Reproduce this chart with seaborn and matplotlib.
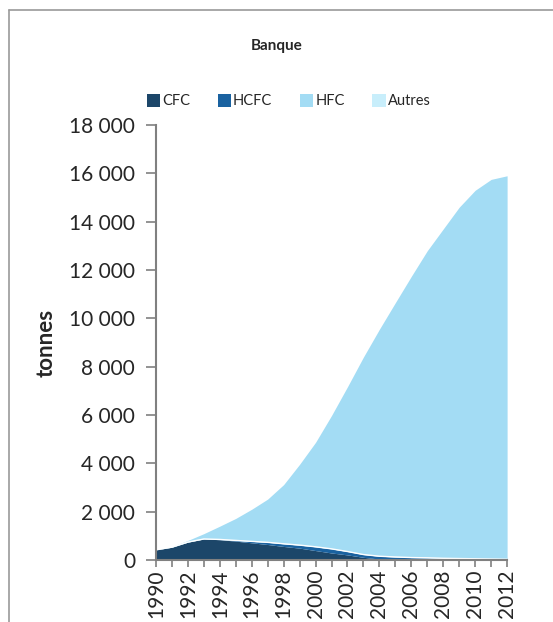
import numpy as np
import pandas as pd
import matplotlib
matplotlib.use("Agg")
import matplotlib.pyplot as plt
from matplotlib.ticker import FuncFormatter
from matplotlib.patches import Patch
from matplotlib.lines import Line2D
import seaborn as sns

# Données (tonnes)
annees = list(range(1990, 2013))
cfc = [420, 530, 740, 870, 840, 780, 710, 640, 560, 490, 390, 290, 210, 110,
       40, 15, 0, 0, 0, 0, 0, 0, 0]
hcfc = [0, 0, 0, 0, 10, 30, 60, 90, 110, 125, 155, 170, 140, 115,
        115, 110, 100, 90, 70, 60, 50, 40, 30]
total = [420, 560, 810, 1090, 1400, 1720, 2100, 2520, 3120, 3960, 4870, 5980,
         7170, 8400, 9550, 10650, 11740, 12800, 13700, 14600, 15300, 15750, 15900]
autres = [0] * len(annees)
hfc = [t - c - h for t, c, h in zip(total, cfc, hcfc)]

series = ["CFC", "HCFC", "HFC", "Autres"]
couleurs = ["#1c4669", "#1a62a0", "#a3dcf4", "#c8eefb"]

df = pd.DataFrame({"Année": annees, "CFC": cfc, "HCFC": hcfc, "HFC": hfc, "Autres": autres})

sns.set_style("white")
plt.rcParams["font.family"] = ["Lato", "DejaVu Sans"]

fig = plt.figure(figsize=(5.53, 6.22), dpi=100)
ax = fig.add_axes([0.282, 0.0997, 0.635, 0.6993])

ax.stackplot(df["Année"], [df[s] for s in series], colors=couleurs, linewidth=0)
# fine ligne blanche au-dessus des HCFC
sns.lineplot(x=df["Année"], y=df["CFC"] + df["HCFC"], color="white", linewidth=1.0, ax=ax)

ax.set_xlim(1990, 2012)
ax.set_ylim(0, 18000)
ax.set_yticks(range(0, 18001, 2000))
ax.yaxis.set_major_formatter(FuncFormatter(lambda v, p: f"{int(v):,}".replace(",", " ")))
ax.set_xticks(annees)
ax.set_xticklabels([str(a) if a % 2 == 0 else "" for a in annees], rotation=90, fontsize=15)
ax.tick_params(axis="y", labelsize=15, length=7, width=1.2, color="#808080", direction="out", pad=8)
ax.tick_params(axis="x", length=5, width=1.2, color="#808080", direction="out", pad=2)
ax.tick_params(left=True, bottom=True)

sns.despine(ax=ax)
for sp in ["left", "bottom"]:
    ax.spines[sp].set_color("#808080")
    ax.spines[sp].set_linewidth(1.5)

ax.set_xlabel("")
ax.set_ylabel("tonnes", fontsize=16, fontweight="bold", labelpad=9)

fig.text(0.5, 0.926, "Banque", ha="center", va="center", fontsize=11, fontweight="bold")

poignees = [Patch(facecolor=c, edgecolor="none") for c in couleurs]
fig.legend(poignees, series, loc="center", bbox_to_anchor=(0.522, 0.838), ncol=4,
           frameon=False, fontsize=10.5, handlelength=0.9, handleheight=1.0,
           handletextpad=0.15, columnspacing=1.9)

# cadre gris du graphique (coupé à droite et en bas)
fig.add_artist(Line2D([9 / 553, 1.0], [1 - 10 / 622, 1 - 10 / 622], color="#9a9a9a", linewidth=1.2))
fig.add_artist(Line2D([9 / 553, 9 / 553], [0.0, 1 - 10 / 622], color="#9a9a9a", linewidth=1.2))

fig.savefig("out.png", dpi=100)
